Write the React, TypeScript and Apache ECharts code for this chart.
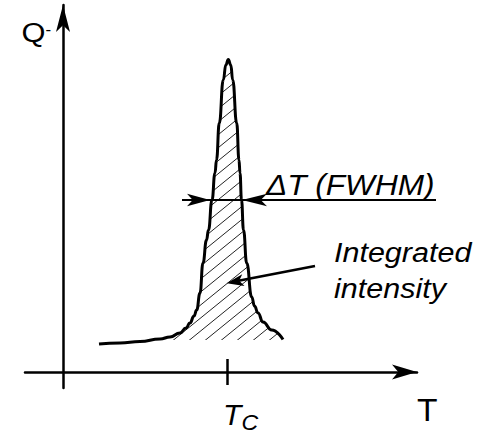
import React, { useEffect, useRef } from "react";
import * as echarts from "echarts";

// Peak profile Q(T), arbitrary units (T = 0 at the Q axis, Q = 0 at the T axis)
const curveT = [36, 57, 77, 97, 107, 117, 123, 127, 131, 133.7, 137, 140, 143.5, 145.5, 149, 152, 153.5, 156.3, 160.3, 162.8, 165.3, 167.8, 169.7, 173.7, 176, 177, 178.5, 180.5, 183.7, 188.7, 191.5, 195, 200, 208.7, 220];
const curveQ = [28, 29, 30.5, 33, 35, 39, 44, 49, 56, 62, 79, 109, 132, 142, 172, 199, 212, 249, 292, 307, 312.5, 307, 292, 249, 212, 199, 172, 142, 109, 75, 66, 59, 50, 42, 32.5];

// Critical temperature
const TC = 164;
const tickHalf = 13;

// Hatched (integrated) region base level
const hatchBase = 32;

// FWHM marker
const fwhmT = [119, 373];
const fwhmQ = 172;
const fwhmTipLeft = 147;
const fwhmTipRight = 179;

// "Integrated intensity" pointer
const pointerT = [252, 169];
const pointerQ = [106, 90];
const pointerTip = [163.7, 88.7];

// Axis ranges (axis ends are the arrow tips)
const tMin = -38;
const tMax = 354;
const qMin = -16;
const qMax = 367;

const FONT = '"Liberation Sans", Arial, Helvetica, sans-serif';

function hatchPattern() {
  const w = 16, h = 13;
  const svg = `<svg xmlns='http://www.w3.org/2000/svg' width='${w}' height='${h}'><path d='M0,${h} L${w},0 M${-w},${h} L${w},${-h} M0,${2 * h} L${2 * w},0' stroke='#222' stroke-width='1' fill='none'/></svg>`;
  return {
    image: "data:image/svg+xml;charset=utf-8," + encodeURIComponent(svg),
    repeat: "repeat",
    imageWidth: w,
    imageHeight: h,
  };
}

export default function App() {
  const ref = useRef<HTMLDivElement>(null);
  useEffect(() => {
    if (!ref.current) return;
    const chart = echarts.init(ref.current, null, { renderer: "svg" });
    const curve = curveT.map((t, i) => [t, curveQ[i]]);
    const hatch = curve.filter((p) => p[1] >= hatchBase);

    // ECharts "arrow": tip at the anchor, total width = 4/3 * symbol width
    const ptrDx = pointerT[0] - pointerTip[0];
    const ptrDy = pointerQ[0] - pointerTip[1];
    const ptrAngle = (Math.atan2(-ptrDy, -ptrDx) * 180) / Math.PI - 90;

    const text = (t: string, x: number, y: number, size: number, italic: boolean, sx = 1) => ({
      type: "text",
      x,
      y,
      scaleX: sx,
      silent: true,
      style: {
        text: t,
        x: 0,
        y: 0,
        fill: "#000",
        fontSize: size,
        fontFamily: FONT,
        fontStyle: italic ? "italic" : "normal",
        align: "left",
        verticalAlign: "middle",
      },
    });
    const option: any = {
      animation: false,
      grid: { left: 25, right: 72, top: 5, bottom: 47 },
      xAxis: {
        type: "value",
        min: tMin,
        max: tMax,
        axisLine: {
          show: true,
          onZero: true,
          symbol: ["none", "arrow"],
          symbolSize: [11.25, 25],
          lineStyle: { color: "#000", width: 2.5 },
        },
        axisTick: { show: false },
        axisLabel: { show: false },
        splitLine: { show: false },
      },
      yAxis: {
        type: "value",
        min: qMin,
        max: qMax,
        axisLine: {
          show: true,
          onZero: true,
          symbol: ["none", "arrow"],
          symbolSize: [10.5, 27],
          lineStyle: { color: "#000", width: 2.5 },
        },
        axisTick: { show: false },
        axisLabel: { show: false },
        splitLine: { show: false },
      },
      series: [
        {
          type: "line",
          data: hatch,
          smooth: 0.5,
          smoothMonotone: "x",
          showSymbol: false,
          silent: true,
          lineStyle: { width: 0, opacity: 0 },
          areaStyle: { color: hatchPattern(), opacity: 1, origin: hatchBase },
          z: 1,
        },
        {
          type: "line",
          data: curve,
          smooth: 0.5,
          smoothMonotone: "x",
          showSymbol: false,
          silent: true,
          lineStyle: { color: "#000", width: 3 },
          z: 3,
          markLine: {
            silent: true,
            symbol: ["none", "none"],
            label: { show: false },
            lineStyle: { color: "#000", width: 2.5, type: "solid" },
            data: [[{ coord: [TC, -tickHalf] }, { coord: [TC, tickHalf] }]],
          },
        },
        {
          type: "line",
          data: pointerT.map((t, i) => [t, pointerQ[i]]),
          showSymbol: false,
          silent: true,
          lineStyle: { color: "#000", width: 2.5 },
          z: 4,
        },
        {
          type: "scatter",
          silent: true,
          z: 5,
          itemStyle: { color: "#000", opacity: 1 },
          data: [
            { value: [fwhmTipLeft, fwhmQ], symbol: "arrow", symbolSize: [9.5, 23], symbolRotate: -90 },
            { value: [fwhmTipRight, fwhmQ], symbol: "arrow", symbolSize: [9.5, 25], symbolRotate: 90 },
            { value: pointerTip, symbol: "arrow", symbolSize: [9, 17], symbolRotate: ptrAngle },
          ],
        },
      ],
    };
    chart.setOption(option);

    const a = chart.convertToPixel({ gridIndex: 0 }, [fwhmT[0], fwhmQ]) as number[];
    const b = chart.convertToPixel({ gridIndex: 0 }, [fwhmT[1], fwhmQ]) as number[];

    chart.setOption({
      graphic: [
        {
          type: "line",
          silent: true,
          z: 4,
          shape: { x1: a[0], y1: a[1], x2: b[0], y2: b[1] },
          style: { stroke: "#000", lineWidth: 2 },
        },
        text("Q", 21.5, 32, 28, false, 1.1),
        text("-", 45.5, 29.5, 17, false),
        text("T", 417, 410, 32, false, 1.05),
        text("T", 223, 414, 30, true),
        text("C", 241.5, 422.5, 22, true, 1.05),
        text("ΔT (FWHM)", 266, 185, 29, true, 1.09),
        text("Integrated", 334, 252, 28, true, 1.09),
        text("intensity", 334, 288, 28, true, 1.09),
      ],
    });
    return () => chart.dispose();
  }, []);
  return (
    <div
      ref={ref}
      style={{ position: "absolute", left: 0, top: 0, width: 489, height: 435, background: "#fff" }}
    />
  );
}
